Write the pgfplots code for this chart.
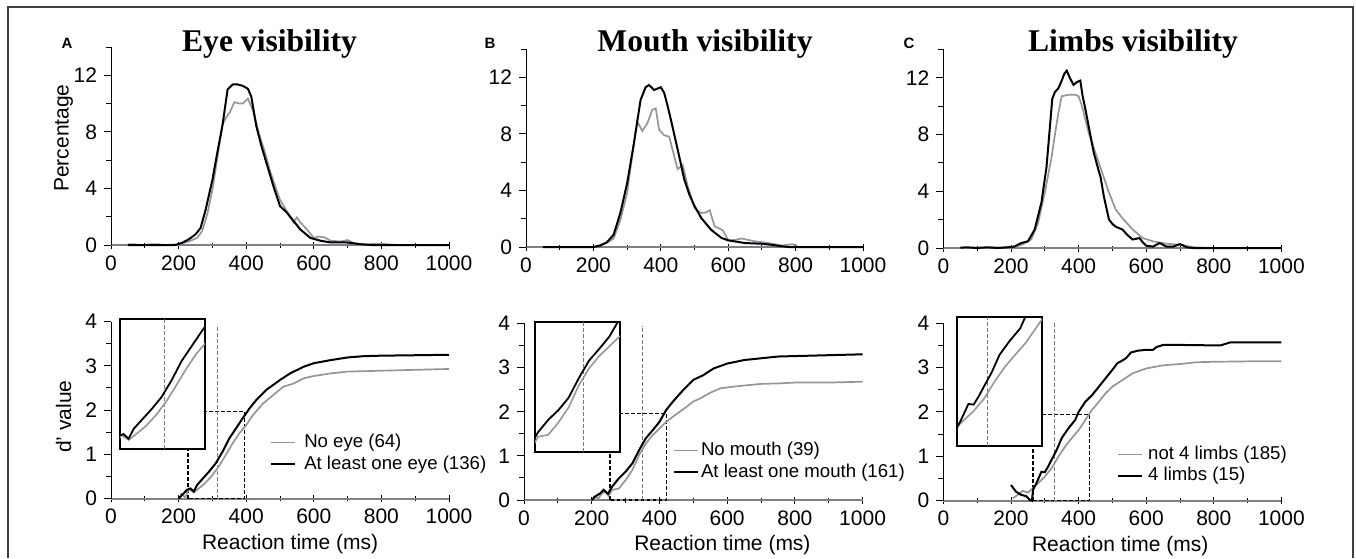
\documentclass[border=0pt]{standalone}
\usepackage{fontspec}
\setmainfont{Liberation Sans}
\newfontfamily\titlefont{Liberation Serif}
\usepackage{pgfplots}
\usepackage{pgfplotstable}
\pgfplotsset{compat=1.18}

\definecolor{cgray}{RGB}{148,150,156}
\newcommand{\tickfont}{\fontsize{10.5}{12}\selectfont}
\newcommand{\legfont}{\fontsize{9.3}{10.5}\selectfont}
\newcommand{\ttlfont}{\titlefont\bfseries\fontsize{15.8}{18}\selectfont}
\newcommand{\letfont}{\bfseries\fontsize{7.5}{9}\selectfont}

% bottom row curves (d' value), reused in the insets
\pgfplotstableread{
x y
200 0
215 0.12
225 0.20
235 0.23
245 0.16
255 0.31
270 0.44
290 0.61
310 0.80
330 1.06
350 1.36
370 1.59
390 1.82
410 2.04
430 2.23
460 2.46
500 2.68
530 2.83
570 2.98
600 3.06
650 3.13
700 3.19
750 3.22
800 3.23
900 3.24
1000 3.25
}\dAblack
\pgfplotstableread{
x y
205 0.12
220 0.03
230 0.22
245 0.14
260 0.23
280 0.36
300 0.53
320 0.74
340 0.99
360 1.25
380 1.48
400 1.66
420 1.89
450 2.15
480 2.34
510 2.53
540 2.60
570 2.72
600 2.77
650 2.83
700 2.87
800 2.89
900 2.91
1000 2.93
}\dAgray
\pgfplotstableread{
x y
200 0
210 0.08
225 0.15
235 0.23
248 0.14
260 0.30
280 0.49
300 0.64
320 0.83
340 1.13
360 1.40
380 1.58
400 1.77
420 2.04
440 2.23
470 2.49
500 2.72
530 2.83
560 2.98
600 3.09
650 3.17
700 3.21
750 3.25
800 3.26
900 3.28
1000 3.30
}\dBblack
\pgfplotstableread{
x y
205 0.08
220 0.04
230 0.15
240 0.19
250 0.09
260 0.23
280 0.26
300 0.45
320 0.68
340 1.02
360 1.28
380 1.47
400 1.62
420 1.77
440 1.89
460 2.00
480 2.11
500 2.23
520 2.30
550 2.43
580 2.53
620 2.57
660 2.60
700 2.63
750 2.64
800 2.66
900 2.66
1000 2.68
}\dBgray
\pgfplotstableread{
x y
200 0.35
215 0.20
230 0.13
245 0.10
255 0.02
262 0
265 0.24
275 0.39
290 0.65
300 0.64
310 0.77
320 0.92
335 1.14
350 1.41
370 1.63
390 1.82
400 2.00
420 2.23
440 2.38
460 2.57
480 2.76
500 2.95
515 3.10
530 3.16
540 3.21
555 3.34
575 3.38
600 3.40
620 3.40
630 3.46
650 3.51
700 3.51
800 3.50
820 3.50
850 3.57
1000 3.57
}\dCblack
\pgfplotstableread{
x y
205 0.05
220 0.13
235 0.22
250 0.18
265 0.28
280 0.39
300 0.54
320 0.73
340 0.99
360 1.22
380 1.41
400 1.59
420 1.82
440 2.05
460 2.23
480 2.42
500 2.57
530 2.72
560 2.87
600 2.98
650 3.05
700 3.08
750 3.12
800 3.13
900 3.14
1000 3.14
}\dCgray

\pgfplotsset{
  panel/.style={
    scale only axis, axis lines*=left, clip=false,
    xmin=0, xmax=1000,
    xtick={0,200,...,1000}, minor xtick={100,300,...,900},
    scaled ticks=false,
    /pgf/number format/1000 sep={},
    /pgf/number format/assume math mode=true,
    x axis line style={cgray!85!black, line width=0.9pt},
    y axis line style={black, line width=0.5pt},
    every tick/.style={black, line width=0.5pt},
    xtick align=center, ytick align=outside,
    major tick length=3.5pt, minor tick length=2.5pt,
    tick label style={font=\tickfont},
    label style={font=\tickfont},
  },
  toprow/.style={panel, width=169pt, height=99pt,
    ymin=0, ymax=14, ytick={0,4,8,12}, minor ytick={2,6,10,14}},
  botrow/.style={panel, width=169pt, height=88.5pt,
    ymin=0, ymax=4, ytick={0,1,2,3,4}, minor ytick={0.5,1.5,2.5,3.5},
    xlabel={Reaction time (ms)},
    legend cell align=left,
    legend image code/.code={\draw[##1] (0pt,0pt) -- (12pt,0pt);},
    legend style={draw=none, fill=none, inner sep=0pt, row sep=0pt,
      font=\legfont,
      nodes={inner ysep=1.2pt, text height=6.6pt, text depth=1.9pt}}},
  inset/.style={scale only axis, width=42.5pt, ticks=none, clip=true,
    ymin=0, ymax=2, axis line style={black, line width=1pt},
    axis background/.style={fill=white}},
  gcurve/.style={cgray, line width=0.85pt},
  kcurve/.style={black, line width=1pt},
  rectline/.style={black, line width=0.6pt, dash pattern=on 1.8pt off 1.2pt},
  meanline/.style={cgray!80!black, line width=0.5pt, dash pattern=on 1.8pt off 1.2pt},
}

\begin{document}
\begin{tikzpicture}
\useasboundingbox (0,0) rectangle (678pt,-279pt);
\draw[line width=0.6pt, black!75] (4pt,-279pt) -- (4pt,-3.5pt) -- (676.5pt,-3.5pt) -- (676.5pt,-279pt);

% titles and panel letters
\node[anchor=base, font=\ttlfont] at (134.75pt,-25.8pt) {Eye visibility};
\node[anchor=base, font=\ttlfont] at (352.5pt,-25.8pt) {Mouth visibility};
\node[anchor=base, font=\ttlfont] at (566.5pt,-25.8pt) {Limbs visibility};
\node[anchor=base, font=\letfont] at (33.5pt,-24pt) {A};
\node[anchor=base, font=\letfont] at (245pt,-24pt) {B};
\node[anchor=base, font=\letfont] at (454.5pt,-24pt) {C};

% ---------- top row: percentage ----------
\begin{axis}[toprow, at={(55.5pt,-122.5pt)}, anchor=south west,
  ylabel={Percentage},
  ylabel style={at={(axis description cs:-0.14,0.54)}, anchor=center}]
\addplot[gcurve] coordinates {(50,0.05) (70,0.05) (90,0) (120,0.05) (140,0.05) (160,0) (200,0.05)
  (230,0.25) (255,0.5) (270,1.0) (285,2.2) (300,3.9) (315,6.2) (330,8.5) (340,9.0) (352,9.4)
  (365,10.1) (380,10.0) (390,10.0) (405,10.35) (420,9.5) (440,7.7) (455,6.6) (470,5.3) (485,4.2)
  (500,3.2) (520,2.4) (540,1.6) (550,1.95) (560,1.6) (580,1.1) (600,0.5) (615,0.6) (630,0.55)
  (650,0.3) (680,0.25) (700,0.35) (720,0.1) (760,0.05) (790,0.1) (820,0.05) (850,0) (1000,0)};
\addplot[kcurve] coordinates {(50,0) (100,0) (150,0) (190,0) (210,0.15) (230,0.4) (250,0.75)
  (265,1.2) (280,2.5) (300,4.6) (315,6.6) (330,8.5) (345,11.0) (360,11.35) (375,11.35) (390,11.25)
  (405,11.05) (415,10.5) (430,8.4) (445,7.0) (460,5.8) (480,4.2) (500,2.75) (520,2.3) (540,1.7)
  (560,1.1) (590,0.5) (620,0.3) (650,0.18) (700,0.18) (740,0.05) (770,0) (850,0) (1000,0)};
\end{axis}

\begin{axis}[toprow, at={(263pt,-123.5pt)}, anchor=south west, width=168.5pt]
\addplot[gcurve] coordinates {(50,0) (200,0) (240,0.3) (260,0.6) (280,1.9) (300,3.8) (320,7.3)
  (330,8.9) (345,8.2) (360,8.75) (375,9.7) (385,9.8) (395,8.3) (410,7.9) (425,7.8) (440,6.4)
  (450,5.5) (465,5.8) (480,4.3) (500,2.75) (520,2.4) (535,2.45) (545,2.6) (560,1.45) (575,1.3)
  (585,1.15) (600,0.47) (620,0.5) (640,0.6) (680,0.4) (720,0.28) (760,0.1) (790,0.2) (810,0) (1000,0)};
\addplot[kcurve] coordinates {(50,0) (200,0) (220,0.1) (240,0.33) (260,0.87) (280,2.4) (300,4.5)
  (320,7.3) (340,10.4) (355,11.3) (365,11.45) (372,11.3) (380,11.1) (390,11.2) (400,11.3)
  (410,10.9) (420,10.0) (430,9.0) (450,6.9) (470,4.75) (485,3.7) (500,2.9) (520,2.05) (550,1.2)
  (580,0.64) (600,0.47) (650,0.28) (700,0.23) (730,0.15) (760,0.05) (780,0) (1000,0)};
\end{axis}

\begin{axis}[toprow, at={(471.7pt,-124pt)}, anchor=south west, height=99.3pt]
\addplot[gcurve] coordinates {(50,0) (200,0.05) (230,0.2) (260,0.6) (280,1.75) (300,3.9) (320,6.4)
  (330,8.0) (340,9.5) (350,10.7) (370,10.8) (390,10.8) (400,10.7) (410,10.0) (430,8.1) (450,6.7)
  (470,5.3) (490,3.9) (510,2.7) (530,2.1) (560,1.3) (590,0.7) (620,0.47) (660,0.3) (700,0.23)
  (740,0.05) (800,0) (1000,0)};
\addplot[kcurve] coordinates {(50,0.02) (70,0.05) (100,0) (130,0.05) (160,0) (190,0.05) (210,0.1)
  (230,0.35) (250,0.47) (270,1.3) (290,3.2) (305,5.7) (315,8.5) (322,10.5) (330,11.0) (340,11.25)
  (350,11.8) (358,12.3) (365,12.5) (375,11.95) (385,11.5) (395,11.7) (405,11.8) (412,10.7)
  (420,9.8) (430,8.55) (445,6.7) (460,5.4) (465,5.0) (475,3.6) (490,2.0) (500,1.7) (510,1.5)
  (530,1.3) (545,0.9) (560,0.6) (580,0.7) (590,0.4) (600,0.16) (620,0.1) (640,0.35) (660,0.1)
  (680,0.1) (700,0.28) (720,0.05) (740,0) (1000,0)};
\end{axis}

% ---------- bottom row: d' value ----------
\begin{axis}[botrow, at={(55.5pt,-249.3pt)}, anchor=south west,
  ylabel={d' value},
  ylabel style={at={(axis description cs:-0.14,0.463)}, anchor=center},
  xlabel style={at={(axis description cs:0.53,-0.255)}, anchor=center},
  legend style={at={(axis description cs:0.47,0.38)}, anchor=north west,
    nodes={inner xsep=4pt}}]
\addplot[rectline, forget plot] coordinates {(228,0) (228,1.96) (396,1.96) (396,0) (228,0)};
\addplot[meanline, forget plot] coordinates {(316,0) (316,3.92)};
\addplot[gcurve] table {\dAgray};
\addplot[kcurve] table {\dAblack};
\legend{No eye (64), At least one eye (136)}
\end{axis}
\begin{axis}[inset, at={(60pt,-224.5pt)}, anchor=south west, height=64.85pt, xmin=228, xmax=396]
\addplot[meanline] coordinates {(315,0) (315,2)};
\addplot[cgray, line width=0.8pt] table {\dAgray};
\addplot[black, line width=0.9pt] table {\dAblack};
\end{axis}

\begin{axis}[botrow, at={(262pt,-250pt)}, anchor=south west, width=169.3pt, height=88.3pt,
  xlabel style={at={(axis description cs:0.586,-0.255)}, anchor=center},
  legend style={at={(axis description cs:0.439,0.344)}, anchor=north west,
    nodes={inner xsep=1pt}}]
\addplot[rectline, forget plot] coordinates {(254,0) (254,1.96) (421,1.96) (421,0) (254,0)};
\addplot[meanline, forget plot] coordinates {(350,0) (350,3.95)};
\addplot[gcurve] table {\dBgray};
\addplot[kcurve] table {\dBblack};
\legend{No mouth (39), At least one mouth (161)}
\end{axis}
\begin{axis}[inset, at={(267.5pt,-225.85pt)}, anchor=south west, height=65pt, xmin=254, xmax=421]
\addplot[meanline] coordinates {(350,0) (350,2)};
\addplot[cgray, line width=0.8pt] table {\dBgray};
\addplot[black, line width=0.9pt] table {\dBblack};
\end{axis}

\begin{axis}[botrow, at={(471.7pt,-250.3pt)}, anchor=south west, height=88.7pt,
  xlabel style={at={(axis description cs:0.523,-0.255)}, anchor=center},
  legend style={at={(axis description cs:0.513,0.324)}, anchor=north west,
    nodes={inner xsep=2.5pt}}]
\addplot[rectline, forget plot] coordinates {(265,0) (265,1.95) (432,1.95) (432,0) (265,0)};
\addplot[meanline, forget plot] coordinates {(328,0) (328,4.0)};
\addplot[gcurve] table {\dCgray};
\addplot[kcurve] table {\dCblack};
\legend{not 4 limbs (185), 4 limbs (15)}
\end{axis}
\begin{axis}[inset, at={(478.5pt,-223pt)}, anchor=south west, height=64.65pt, xmin=268, xmax=432]
\addplot[meanline] coordinates {(326,0) (326,2)};
\addplot[cgray, line width=0.8pt] table {\dCgray};
\addplot[black, line width=0.9pt] table {\dCblack};
\end{axis}
\end{tikzpicture}
\end{document}
